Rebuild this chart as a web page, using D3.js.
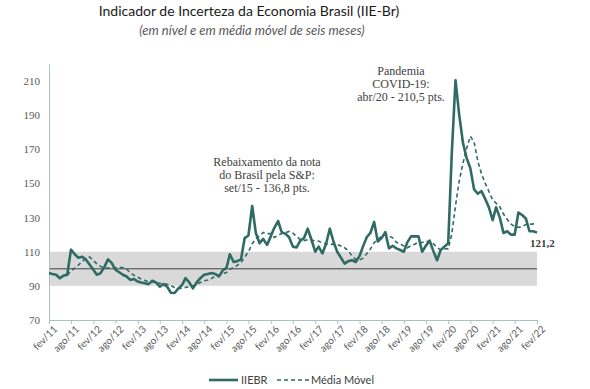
<!DOCTYPE html>
<html>
<head>
<meta charset="utf-8">
<script src="https://cdn.jsdelivr.net/npm/d3@7"></script>
<style>
  body { margin: 0; background: #fff; }
  svg { display: block; }
</style>
</head>
<body>
<svg class="chart"></svg>
<script>
// IIE-Br mensal, fev/11 a fev/22
const startMonth = new Date(2011, 1, 1)
const iiebr = [
  97.5, 97, 96.5, 94.5, 96, 96.5, 111.2, 108.5, 106.5, 107, 105.5, 102.5,
  99.5, 96.5, 97.5, 101, 105.5, 103.5, 99.5, 98, 96.5, 95.5, 93.5, 94,
  92.5, 92, 91.5, 91, 93, 92, 89.5, 91, 89.5, 86, 85.8, 88.5,
  90.5, 94.5, 92, 88.5, 92, 94.5, 96.5, 97, 97.5, 97, 95.5, 99,
  100.5, 108.5, 104, 104.5, 105.5, 118, 119.5, 136.8, 121, 115, 117.5, 114,
  119, 124, 128, 121.5, 120.5, 118.5, 113, 112.5, 116.5, 118, 123.5, 117,
  110, 113, 109, 114.5, 123.5, 116, 110, 106.5, 103, 104.5, 105, 104,
  107.5, 113, 118.5, 121, 127.5, 116, 118, 121.5, 112, 113.5, 112, 111,
  110, 115.5, 119, 119, 119, 110, 113.5, 116.5, 110.5, 105, 111, 113,
  115, 167, 210.5, 190.5, 174, 165, 159, 146.5, 144, 145.5, 141, 136,
  128.5, 136, 130, 121, 122, 120, 120, 133, 131.5, 129.5, 122, 122, 121.2
]
// media movel (6 meses)
const mediaMovel = [
  null, null, null, null, null, 96.3, 98.6, 100.5, 102.2, 104.3, 105.9, 106.9,
  104.9, 102.9, 101.4, 100.4, 100.4, 100.6, 100.6, 100.8, 100.7, 99.8, 97.8, 96.2,
  95, 94, 93.2, 92.4, 92.3, 92, 91.5, 91.3, 91, 90.2, 89, 88.4,
  88.6, 89.1, 89.6, 90, 91, 92, 93, 93.4, 94.3, 95.8, 96.3, 97.1,
  97.8, 99.7, 100.8, 102, 103.7, 106.8, 110, 114.7, 117.6, 119.3, 121.3, 120.6,
  120.6, 118.4, 119.6, 120.7, 121.2, 121.9, 120.9, 119, 117.1, 116.5, 117, 116.8,
  116.3, 116.3, 115.1, 114.5, 114.5, 114.3, 114.3, 113.3, 112.3, 110.6, 107.5, 105.5,
  105.1, 106.2, 108.8, 111.5, 115.3, 117.3, 119, 120.4, 119.3, 118.1, 115.5, 114.7,
  113.3, 112.3, 113.5, 114.4, 115.6, 115.4, 116, 116.2, 114.8, 112.4, 111.1, 111.6,
  111.8, 120.3, 136.9, 151.2, 161.7, 170.3, 177.7, 174.3, 163.2, 155.7, 150.2, 145.3,
  140.3, 138.5, 136.2, 132.1, 128.9, 126.3, 124.8, 124.3, 124.6, 126, 126, 126.3, 126.5
]
const yTicks = [70, 90, 110, 130, 150, 170, 190, 210]
const monthNames = ["jan", "fev", "mar", "abr", "mai", "jun", "jul", "ago", "set", "out", "nov", "dez"]
const band = [90, 110]
const baseLine = 100
const lastLabel = "121,2"
const notes = [
  { lines: ["Rebaixamento  da nota", "do Brasil pela S&P:", "set/15 - 136,8 pts."], cx: 267, value: 160.4 },
  { lines: ["Pandemia", "COVID-19:", "abr/20 - 210,5 pts."], cx: 401, value: 213.5 }
]

const width = 590, height = 389
const margin = { top: 64, left: 49, right: 53, bottom: 69 }
const teal = "#2f6b64", axisColor = "#a9c3c3", textColor = "#595959"

const svg = d3.select(".chart").attr("width", width).attr("height", height)

const data = iiebr.map((v, i) => ({ date: d3.timeMonth.offset(startMonth, i), v: v, mm: mediaMovel[i] }))

const x = d3.scaleTime()
  .domain(d3.extent(data, d => d.date))
  .range([margin.left, width - margin.right])

const y = d3.scaleLinear()
  .domain([70, 220])
  .range([height - margin.bottom, margin.top])

// titulo
svg.append("text")
  .attr("x", 249).attr("y", 16)
  .attr("text-anchor", "middle")
  .attr("fill", "#1a1a1a")
  .style("font-family", "Lato, sans-serif")
  .style("font-size", "14px")
  .text("Indicador de Incerteza da Economia Brasil (IIE-Br)")

svg.append("text")
  .attr("x", 252).attr("y", 35)
  .attr("text-anchor", "middle")
  .attr("fill", textColor)
  .style("font-family", "Lato, sans-serif")
  .style("font-style", "italic")
  .style("font-size", "13px")
  .text("(em nível e em média móvel de seis meses)")

// faixa 90-110 e linha de 100
svg.append("rect")
  .attr("x", x.range()[0])
  .attr("y", y(band[1]))
  .attr("width", x.range()[1] - x.range()[0])
  .attr("height", y(band[0]) - y(band[1]))
  .attr("fill", "#d9d9d9")

svg.append("line")
  .attr("x1", x.range()[0]).attr("x2", x.range()[1])
  .attr("y1", y(baseLine)).attr("y2", y(baseLine))
  .attr("stroke", "#404040")
  .attr("stroke-width", 1)

// eixos
const xTickValues = d3.timeMonth.range(startMonth, d3.timeMonth.offset(x.domain()[1], 1))
  .filter(d => d.getMonth() == 1 || d.getMonth() == 7)

const xAxis = svg.append("g")
  .attr("transform", "translate(0," + y(70) + ")")
  .call(d3.axisBottom(x)
    .tickValues(xTickValues)
    .tickSize(4)
    .tickSizeOuter(0)
    .tickFormat(d => monthNames[d.getMonth()] + "/" + String(d.getFullYear()).slice(2)))

xAxis.select(".domain").attr("stroke", axisColor)
xAxis.selectAll(".tick line").attr("stroke", axisColor)
xAxis.selectAll(".tick text")
  .attr("fill", textColor)
  .style("font-family", "Lato, sans-serif")
  .style("font-size", "10px")
  .attr("text-anchor", "end")
  .attr("dx", "-0.1em")
  .attr("dy", "0.6em")
  .attr("transform", "rotate(-45)")

const yAxis = svg.append("g")
  .attr("transform", "translate(" + margin.left + ",0)")
  .call(d3.axisLeft(y).tickValues(yTicks).tickSize(0).tickPadding(9).tickSizeOuter(0))

yAxis.select(".domain").attr("stroke", axisColor)
yAxis.selectAll(".tick text")
  .attr("fill", textColor)
  .style("font-family", "'Liberation Serif', serif")
  .style("font-size", "11px")

// linhas
const line = d3.line()
  .x(d => x(d.date))
  .y(d => y(d.v))

const mmLine = d3.line()
  .defined(d => d.mm != null)
  .x(d => x(d.date))
  .y(d => y(d.mm))

svg.append("path")
  .datum(data)
  .attr("fill", "none")
  .attr("stroke", teal)
  .attr("stroke-width", 1.6)
  .attr("stroke-dasharray", "4,3")
  .attr("d", mmLine)

svg.append("path")
  .datum(data)
  .attr("fill", "none")
  .attr("stroke", teal)
  .attr("stroke-width", 2.6)
  .attr("stroke-linejoin", "round")
  .attr("d", line)

// ultimo valor
const last = data[data.length - 1]
svg.append("text")
  .attr("x", x(last.date) - 7)
  .attr("y", y(last.v) + 14)
  .attr("fill", "#404040")
  .style("font-family", "'Liberation Serif', serif")
  .style("font-weight", "bold")
  .style("font-size", "11px")
  .text(lastLabel)

// anotacoes
notes.forEach(n => {
  const t = svg.append("text")
    .attr("text-anchor", "middle")
    .attr("fill", "#404040")
    .style("font-family", "'Liberation Serif', serif")
    .style("font-size", "12px")
  n.lines.forEach((l, i) => {
    t.append("tspan")
      .attr("x", n.cx)
      .attr("y", y(n.value) + i * 13)
      .text(l)
  })
})

// legenda
const legend = svg.append("g").attr("transform", "translate(0,380)")
legend.append("line")
  .attr("x1", 209).attr("x2", 238)
  .attr("stroke", teal).attr("stroke-width", 2.6)
legend.append("text")
  .attr("x", 241).attr("y", 4)
  .attr("fill", "#404040")
  .style("font-family", "Lato, sans-serif")
  .style("font-size", "11px")
  .text("IIEBR")
legend.append("line")
  .attr("x1", 277).attr("x2", 309)
  .attr("stroke", teal).attr("stroke-width", 1.6)
  .attr("stroke-dasharray", "4,3")
legend.append("text")
  .attr("x", 311).attr("y", 4)
  .attr("fill", "#404040")
  .style("font-family", "Lato, sans-serif")
  .style("font-size", "11px")
  .text("Média Móvel")
</script>
</body>
</html>
